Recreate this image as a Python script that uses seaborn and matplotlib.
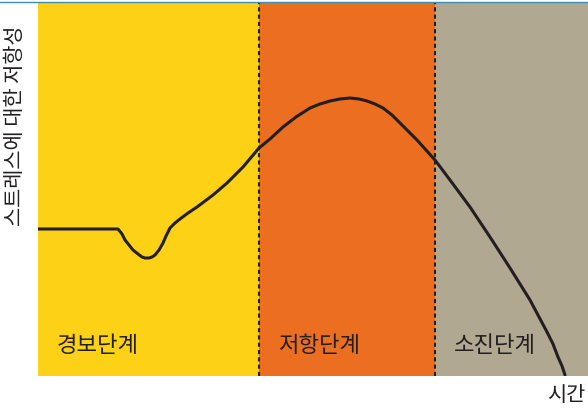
import matplotlib
matplotlib.use("Agg")
import matplotlib.pyplot as plt
from matplotlib.lines import Line2D
import seaborn as sns
import pandas as pd

# stress response curve (time, resistance)
time = [0, 80, 84, 87, 91, 95, 100, 104, 107, 111, 114, 117, 121, 125, 128, 132,
        137, 142, 150, 159, 175, 189, 205, 221, 232, 245, 258, 272, 282, 292, 302,
        312, 321, 329, 337, 345, 354, 362, 379, 397, 412, 432, 452, 472, 492, 509,
        515, 520, 524, 527]
resistance = [147, 147, 142, 136, 131, 126, 122, 119, 118, 118, 119, 121, 126, 133, 140, 148,
              153, 157, 163, 169, 181, 193, 209, 228, 237, 249, 259, 268, 272, 275, 277,
              278, 277, 275, 272, 268, 261, 253, 236, 216, 196, 169, 139, 108, 76, 44,
              32, 19, 10, 1]

stage_names = ["경보단계", "저항단계", "소진단계"]
stage_bounds = [0, 221, 397, 550]
stage_colors = ["#FCD116", "#EC6E20", "#B1A892"]

df = pd.DataFrame({"time": time, "resistance": resistance})

sns.set_style("white")
plt.rcParams["font.family"] = ["Noto Sans CJK KR", "DejaVu Sans"]

fig = plt.figure(figsize=(5.88, 4.16), dpi=100)
ax = fig.add_axes([38 / 588, 40 / 416, 550 / 588, 373 / 416])

for i, name in enumerate(stage_names):
    ax.axvspan(stage_bounds[i], stage_bounds[i + 1], color=stage_colors[i], lw=0, zorder=0)
    ax.text(stage_bounds[i] + 19, 31, name, fontsize=16, va="center", ha="left", color="#231f20")

for b in stage_bounds[1:-1]:
    ax.axvline(b, color="#231f20", lw=1.5, ls=(0, (2, 1.5)), zorder=1)

sns.lineplot(data=df, x="time", y="resistance", sort=False, color="#231f20", lw=2.2,
             ax=ax, zorder=2)

ax.set_xlim(stage_bounds[0], stage_bounds[-1])
ax.set_ylim(0, 373)
ax.set_xticks([])
ax.set_yticks([])
ax.set_xlabel("")
ax.set_ylabel("")
for s in ax.spines.values():
    s.set_visible(False)

fig.text(15 / 588, 1 - 126 / 416, "스트레스에 대한 저항성", rotation=90, fontsize=15,
         ha="center", va="center", color="#231f20")
fig.text(566 / 588, 1 - 395 / 416, "시간", fontsize=15, ha="center", va="center", color="#231f20")
fig.add_artist(Line2D([0, 1], [1 - 2 / 416, 1 - 2 / 416], transform=fig.transFigure,
                      color="#3a8fb7", lw=1))

fig.savefig("out.png", dpi=100)
